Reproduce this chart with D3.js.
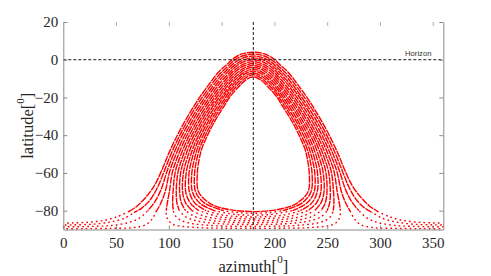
<!DOCTYPE html>
<html><head><meta charset="utf-8">
<script src="https://cdn.jsdelivr.net/npm/d3@7"></script>
<style>html,body{margin:0;padding:0;background:#fff}svg{display:block}</style>
</head><body>
<script>
// ---------------- data ----------------
const xTicks = [0, 50, 100, 150, 200, 250, 300, 350];
const yTicks = [20, 0, -20, -40, -60, -80];
const xDomain = [0, 360];
const yDomain = [-90, 20];
const horizonLat = 0;
const meridianAz = 180;
const horizonLabel = "Horizon";

// Left half of every track, [azimuth, latitude], from the top (az 180) down to about lat -80
const trackArch = [
  [[180,4.0],[170,3.2],[162,1.0],[155,-2.5],[147,-6.6],[138,-13.1],[129,-20.1],[119,-29.0],[109,-39.0],[100,-49.5],[93,-59.0],[86,-67],[78,-73],[70,-77.5],[62,-80.5]],
  [[180,3.0],[170.2,2.1],[162.3,-0.2],[155.2,-3.8],[147.4,-8.1],[138.6,-14.5],[129.8,-21.4],[120.2,-30.0],[110.7,-39.7],[102.2,-49.8],[95.6,-59.1],[89,-68],[82,-74.5],[74,-78.8],[67,-81]],
  [[180,2.0],[170.5,1.0],[162.6,-1.4],[155.5,-5.1],[147.8,-9.5],[139.2,-15.9],[130.7,-22.7],[121.5,-31.0],[112.4,-40.3],[104.4,-50.1],[98.2,-59.2],[92.5,-69],[86.5,-75.5],[80,-80]],
  [[180,1.0],[170.7,-0.1],[162.9,-2.6],[155.7,-6.4],[148.2,-10.9],[139.8,-17.2],[131.5,-23.9],[122.7,-32.0],[114.1,-41.0],[106.6,-50.4],[100.8,-59.2],[96.5,-70],[92,-76.5],[88,-80.5]],
  [[180,0.0],[170.9,-1.1],[163.2,-3.7],[155.9,-7.7],[148.5,-12.3],[140.5,-18.5],[132.4,-25.1],[123.9,-33.0],[115.8,-41.6],[108.8,-50.7],[103.5,-59.3],[100.5,-70],[98.5,-76],[97.5,-80]],
  [[180,-1.0],[171.2,-2.2],[163.5,-4.9],[156.2,-9.0],[148.9,-13.8],[141.1,-19.8],[133.2,-26.4],[125.2,-34.0],[117.5,-42.3],[111.0,-51.0],[106.1,-59.4],[104,-70],[103.6,-76],[104.2,-80]],
  [[180,-2.0],[171.4,-3.2],[163.8,-6.0],[156.4,-10.3],[149.3,-15.2],[141.7,-21.1],[134.1,-27.6],[126.4,-35.0],[119.2,-42.9],[113.2,-51.3],[108.7,-59.5],[107,-70],[107.7,-76],[110,-80]],
  [[180,-3.0],[171.6,-4.3],[164.2,-7.2],[156.6,-11.6],[149.7,-16.6],[142.3,-22.4],[134.9,-28.8],[127.6,-36.0],[120.8,-43.6],[115.3,-51.7],[111.3,-59.5],[110.2,-70],[111.9,-76],[115.9,-80]],
  [[180,-4.0],[171.8,-5.3],[164.5,-8.4],[156.8,-12.9],[150.1,-18.0],[142.9,-23.7],[135.8,-30.1],[128.8,-37.0],[122.5,-44.2],[117.5,-52.0],[113.9,-59.6],[113,-70],[116,-76],[122,-80]],
  [[180,-5.0],[172.1,-6.4],[164.8,-9.6],[157.1,-14.3],[150.5,-19.4],[143.5,-25.0],[136.6,-31.3],[130.1,-38.0],[124.2,-44.9],[119.7,-52.3],[116.5,-59.7],[116,-70],[120.3,-76],[128.4,-80]],
  [[180,-6.0],[172.3,-7.4],[165.1,-10.8],[157.3,-15.6],[150.8,-20.7],[144.2,-26.3],[137.5,-32.5],[131.3,-39.0],[125.9,-45.5],[121.9,-52.6],[119.2,-59.8],[119.4,-70],[124.7,-76],[135.3,-80]],
  [[180,-7.0],[172.5,-8.5],[165.4,-12.0],[157.5,-16.9],[151.2,-22.1],[144.8,-27.6],[138.3,-33.7],[132.5,-40.0],[127.6,-46.2],[124.1,-52.9],[121.8,-59.8],[122.3,-70],[129.2,-76],[142.9,-80]],
  [[180,-8.0],[172.8,-9.6],[165.7,-13.2],[157.8,-18.2],[151.6,-23.5],[145.4,-28.9],[139.2,-35.0],[133.8,-41.0],[129.3,-46.8],[126.3,-53.2],[124.4,-59.9],[125.3,-70],[133.9,-76],[152.1,-80]],
  [[180,-9.0],[173,-10.7],[166,-14.4],[158,-19.5],[152,-24.9],[146,-30.2],[140,-36.2],[135,-42],[131,-47.5],[128.5,-53.5],[127,-60],[128.1,-70],[138.4,-76],[146.3,-78],[163.5,-80],[180,-80.5]]
];
// Left half of every track near the nadir (sparse samples), from lat -80 to az 0 or back to az 180
const trackBase = [
  [[62,-80.5],[52,-83],[40,-85],[25,-86.1],[10,-86.5],[0,-86.6]],
  [[67,-81],[58,-84],[45,-86],[28,-87.2],[10,-87.5],[0,-87.6]],
  [[80,-80],[72,-84],[62,-86.3],[45,-87.9],[25,-88.4],[0,-88.6]],
  [[88,-80.5],[84,-84.5],[78,-87.5],[66,-89],[45,-89.4],[20,-89.55],[0,-89.6]],
  [[97.5,-80],[97.8,-83],[99.4,-85],[103,-87],[108.4,-88],[127.3,-89],[149.2,-89.3],[180,-89.4]],
  [[104.2,-80],[106.6,-83],[111,-85],[115.4,-86],[123.5,-87],[143.7,-88],[153,-88.2],[180,-88.4]],
  [[110,-80],[115.1,-83],[123.5,-85],[132.1,-86],[150.8,-87],[180,-87.4]],
  [[115.9,-80],[124,-83],[137.8,-85],[155.1,-86],[180,-86.4]],
  [[122,-80],[133.8,-83],[157.9,-85],[180,-85.4]],
  [[128.4,-80],[145.3,-83],[160.1,-84],[180,-84.4]],
  [[135.3,-80],[148,-82],[161.8,-83],[180,-83.4]],
  [[142.9,-80],[163.1,-82],[180,-82.4]],
  [[152.1,-80],[164.3,-81],[180,-81.4]],
  []
];

// ---------------- chart ----------------
const W = 491, H = 276;
const svg = d3.select("body").append("svg").attr("width", W).attr("height", H);
const x = d3.scaleLinear().domain(xDomain).range([63.3, 443.3]);
const y = d3.scaleLinear().domain(yDomain).range([229.5, 22]);

const mirror = p => [360 - p[0], p[1]];
const line = d3.line().x(d => x(d[0])).y(d => y(d[1])).curve(d3.curveCatmullRom.alpha(0.5));

const tracks = svg.append("g").attr("fill", "none").attr("stroke", "#ff0000");
trackArch.forEach((arch, i) => {
  const full = arch.slice().reverse().concat(arch.slice(1).map(mirror));
  tracks.append("path").attr("d", line(full))
    .attr("stroke-width", 1.4).attr("stroke-dasharray", "7 0.8")
    .attr("stroke-dashoffset", i * 2.9);
  const base = trackBase[i];
  if (base.length) {
    const sparse = seg => tracks.append("path").attr("d", line(seg))
      .attr("stroke-width", 1.4).attr("stroke-linecap", "square")
      .attr("stroke-dasharray", "0.3 4.5").attr("stroke-dashoffset", i * 1.7);
    if (base[base.length - 1][0] === 0) {
      sparse(base);
      sparse(base.map(mirror));
    } else {
      sparse(base.concat(base.slice(0, -1).reverse().map(mirror)));
    }
  }
});

// reference lines
svg.append("line").attr("x1", x(0)).attr("x2", x(360)).attr("y1", y(horizonLat)).attr("y2", y(horizonLat))
  .attr("stroke", "#1a1a1a").attr("stroke-width", 1).attr("stroke-dasharray", "3 2");
svg.append("line").attr("x1", x(meridianAz)).attr("x2", x(meridianAz)).attr("y1", y(20)).attr("y2", y(-90))
  .attr("stroke", "#1a1a1a").attr("stroke-width", 1).attr("stroke-dasharray", "3 2");
svg.append("text").attr("x", 405).attr("y", 56).attr("font-family", "Liberation Sans, Arial, sans-serif")
  .attr("font-size", 7.7).attr("fill", "#333").text(horizonLabel);

// axes
const axisColor = "#8a8a8a";
const serif = "Liberation Serif, Times New Roman, serif";
function style(g) {
  g.selectAll("path.domain").attr("stroke", axisColor);
  g.selectAll(".tick line").attr("stroke", axisColor);
  g.selectAll("text").attr("font-family", serif).attr("font-size", 15).attr("fill", "#262626");
}
svg.append("g").attr("transform", `translate(0,${y(-90)})`)
  .call(d3.axisBottom(x).tickValues(xTicks).tickSizeInner(-4).tickSizeOuter(0).tickPadding(8))
  .call(style);
svg.append("g").attr("transform", `translate(${x(0)},0)`)
  .call(d3.axisLeft(y).tickValues(yTicks).tickSizeInner(-4).tickSizeOuter(0).tickPadding(5))
  .call(style);
svg.append("g").attr("transform", `translate(${x(360)},0)`)
  .call(d3.axisRight(y).tickValues(yTicks).tickSizeInner(-4).tickSizeOuter(0).tickFormat(""))
  .call(style);
const topAxis = svg.append("g").attr("transform", `translate(0,${y(20)})`)
  .call(d3.axisTop(x).tickValues(xTicks.slice(1)).tickSizeInner(-4).tickSizeOuter(0).tickFormat(""))
  .call(style);
topAxis.select("path.domain").remove();
topAxis.selectAll(".tick line").attr("stroke", "#b0b0b0");

// axis titles
const xt = svg.append("text").attr("x", (x(0) + x(360)) / 2).attr("y", 272)
  .attr("text-anchor", "middle").attr("font-family", serif).attr("font-size", 16.5).attr("fill", "#262626");
xt.append("tspan").text("azimuth[");
xt.append("tspan").attr("dy", -9).attr("font-size", 11).text("0");
xt.append("tspan").attr("dy", 9).text("]");

const yt = svg.append("text").attr("transform", `translate(33,${(y(20) + y(-90)) / 2}) rotate(-90)`)
  .attr("text-anchor", "middle").attr("font-family", serif).attr("font-size", 16.5).attr("fill", "#262626");
yt.append("tspan").text("latitude[");
yt.append("tspan").attr("dy", -9).attr("font-size", 11).text("0");
yt.append("tspan").attr("dy", 9).text("]");
</script>
</body></html>
